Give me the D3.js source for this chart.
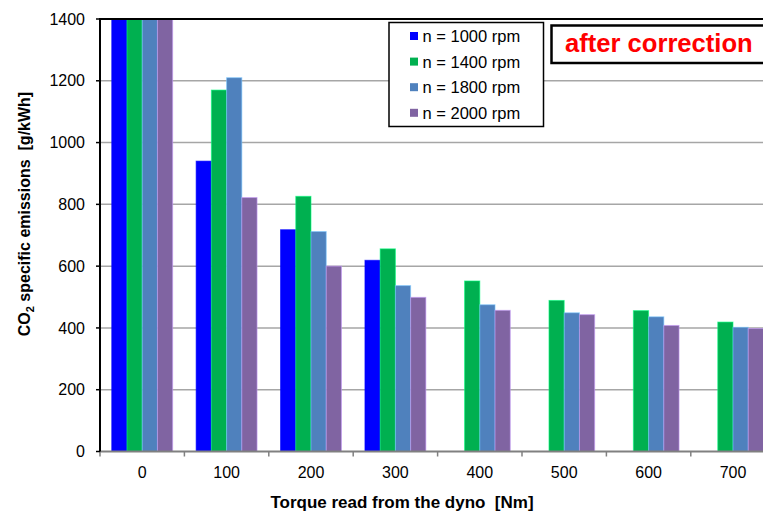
<!DOCTYPE html>
<html>
<head>
<meta charset="utf-8">
<script src="https://cdn.jsdelivr.net/npm/d3@7/dist/d3.min.js"></script>
<style>
  html, body { margin: 0; padding: 0; background: #fff; }
  svg { display: block; font-family: "Liberation Sans", Arial, sans-serif; }
</style>
</head>
<body>
<svg id="chart" width="763" height="513"></svg>
<script>
// ---- data ----
const categories = ["0", "100", "200", "300", "400", "500", "600", "700"];
const seriesNames = ["n = 1000 rpm", "n = 1400 rpm", "n = 1800 rpm", "n = 2000 rpm"];
const seriesColors = ["#0000FF", "#00B050", "#4F81BD", "#8064A2"];
// values at torque 0 exceed the axis maximum (bars clipped at 1400)
const rpm1000 = [1500, 940, 718, 619, null, null, null, null];
const rpm1400 = [1500, 1170, 826, 656, 552, 489, 456, 419];
const rpm1800 = [1500, 1210, 712, 537, 475, 449, 436, 402];
const rpm2000 = [1500, 822, 600, 499, 457, 443, 408, 398];
const yTicks = [0, 200, 400, 600, 800, 1000, 1200, 1400];
const seriesValues = [rpm1000, rpm1400, rpm1800, rpm2000];

(function () {
const svg = d3.select("#chart");
const mLeft = 100, mTop = 19, mBottom = 451.5;
const mRight = mLeft + 8 * 84.4;

const x = d3.scaleBand().domain(categories).range([mLeft, mRight]).paddingInner(0).paddingOuter(0);
const xs = d3.scaleBand().domain(seriesNames).range([0, x.bandwidth()]).paddingInner(0).paddingOuter(0.77);
const y = d3.scaleLinear().domain([0, 1400]).range([mBottom, mTop]);

// clip
svg.append("defs").append("clipPath").attr("id", "plotclip")
  .append("rect").attr("x", mLeft).attr("y", mTop).attr("width", mRight - mLeft).attr("height", mBottom - mTop);

// gridlines
svg.append("g").selectAll("line").data(yTicks.filter(t => t > 0 && t < 1400)).join("line")
  .attr("x1", mLeft).attr("x2", mRight)
  .attr("y1", d => y(d)).attr("y2", d => y(d))
  .attr("stroke", "#a6a6a6").attr("stroke-width", 1.5);

// bars
const barsG = svg.append("g").attr("clip-path", "url(#plotclip)");
seriesNames.forEach((s, si) => {
  const data = categories.map((c, ci) => ({ c, v: seriesValues[si][ci] })).filter(d => d.v != null);
  barsG.append("g").selectAll("rect").data(data).join("rect")
    .attr("x", d => x(d.c) + xs(s))
    .attr("width", xs.bandwidth())
    .attr("y", d => y(d.v))
    .attr("height", d => y(0) - y(d.v))
    .attr("fill", seriesColors[si])
    .attr("stroke", d3.color(seriesColors[si]).brighter(1.2).formatHex())
    .attr("stroke-opacity", 0.6)
    .attr("stroke-width", 1);
});

// x axis baseline (gray) and ticks
svg.append("line").attr("x1", mLeft).attr("x2", mRight).attr("y1", y(0)).attr("y2", y(0))
  .attr("stroke", "#808080").attr("stroke-width", 2);
const xTickPos = categories.map(c => x(c));
svg.append("g").selectAll("line").data(xTickPos).join("line")
  .attr("x1", d => d).attr("x2", d => d)
  .attr("y1", y(0)).attr("y2", y(0) + 5)
  .attr("stroke", "#808080").attr("stroke-width", 1.5);
svg.append("g").selectAll("text").data(categories).join("text")
  .attr("x", d => x(d) + x.bandwidth() / 2)
  .attr("y", 477.5)
  .attr("text-anchor", "middle")
  .attr("font-size", 16)
  .attr("fill", "#000")
  .text(d => d);

// y axis
svg.append("line").attr("x1", mLeft).attr("x2", mLeft).attr("y1", mTop).attr("y2", y(0))
  .attr("stroke", "#000").attr("stroke-width", 2);
svg.append("g").selectAll("line").data(yTicks).join("line")
  .attr("x1", mLeft - 4).attr("x2", mLeft)
  .attr("y1", d => y(d)).attr("y2", d => y(d))
  .attr("stroke", "#000").attr("stroke-width", 1.5);
svg.append("g").selectAll("text").data(yTicks).join("text")
  .attr("x", 85)
  .attr("y", d => y(d))
  .attr("dy", "0.35em")
  .attr("text-anchor", "end")
  .attr("font-size", 16)
  .attr("fill", "#000")
  .text(d => d);

// top border
svg.append("line").attr("x1", mLeft - 1).attr("x2", mRight).attr("y1", mTop).attr("y2", mTop)
  .attr("stroke", "#000").attr("stroke-width", 2);

// axis titles
svg.append("text").attr("x", 402).attr("y", 508)
  .attr("text-anchor", "middle").attr("font-size", 17).attr("font-weight", "bold")
  .style("white-space", "pre")
  .text("Torque read from the dyno  [Nm]");

const yt = svg.append("text")
  .attr("transform", "translate(30,214) rotate(-90)")
  .attr("text-anchor", "middle").attr("font-size", 16).attr("font-weight", "bold")
  .style("white-space", "pre");
yt.append("tspan").text("CO");
yt.append("tspan").attr("font-size", 11).attr("dy", 4).text("2");
yt.append("tspan").attr("dy", -4).text(" specific emissions  [g/kWh]");

// legend
const lg = svg.append("g");
lg.append("rect").attr("x", 389).attr("y", 22.5).attr("width", 154.5).attr("height", 104)
  .attr("fill", "#fff").attr("stroke", "#000").attr("stroke-width", 1.5);
seriesNames.forEach((s, i) => {
  const cy = 36 + i * 25.6;
  lg.append("rect").attr("x", 410).attr("y", cy - 4).attr("width", 8).attr("height", 8).attr("fill", seriesColors[i]);
  lg.append("text").attr("x", 422.5).attr("y", cy).attr("dy", "0.36em")
    .attr("font-size", 16.5).attr("fill", "#000").text(s);
});

// annotation box
svg.append("rect").attr("x", 551.5).attr("y", 25.5).attr("width", 230).attr("height", 37.5)
  .attr("fill", "#fff").attr("stroke", "#000").attr("stroke-width", 2.5);
svg.append("text").attr("x", 565).attr("y", 51.7)
  .attr("font-size", 25.6).attr("font-weight", "bold").attr("fill", "#FF0000")
  .text("after correction");
})();
</script>
</body>
</html>
